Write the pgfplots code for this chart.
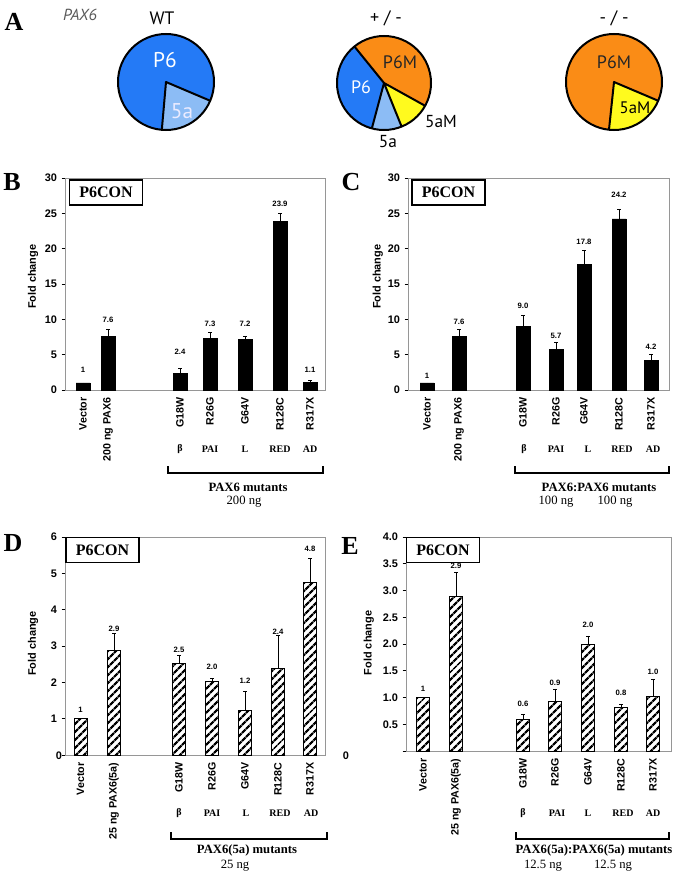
\documentclass[border=0pt]{standalone}
\usepackage{pgfplots}
\usepackage{pgfplotstable}
\pgfplotsset{compat=1.18}
\usetikzlibrary{patterns.meta}
\usepackage{fontspec}
\setmainfont{Liberation Serif}
\setsansfont{Liberation Sans}
\newfontfamily\piefont{PT Sans}

\definecolor{pblue}{RGB}{36,122,246}
\definecolor{plblue}{RGB}{140,188,245}
\definecolor{porange}{RGB}{250,140,22}
\definecolor{pyellow}{RGB}{255,250,30}
\definecolor{framegray}{RGB}{150,150,150}

\newcommand\tlfont{\sffamily\bfseries\fontsize{8.2}{9}\selectfont}
\newcommand\xlfont{\sffamily\bfseries\fontsize{8}{9}\selectfont}
\newcommand\vfont{\sffamily\bfseries\fontsize{5.8}{6}\selectfont}
\newcommand\dfont{\bfseries\fontsize{7.5}{9}\selectfont}
\newcommand\gfont{\fontsize{9.5}{11}\selectfont}

% bar data: x position, value, error, label height, label
\pgfplotstableread{
x v e ly lab
83 1 0 2.8 1
108 7.6 1.0 10.0 7.6
180 2.4 0.7 5.4 2.4
210 7.3 0.9 9.3 7.3
245 7.2 0.35 9.3 7.2
280 23.9 1.1 26.3 23.9
310 1.1 0.2 2.8 1.1
}\Bdata
\pgfplotstableread{
x v e ly lab
427 1 0 2.0 1
459 7.6 1.0 9.7 7.6
523 9.0 1.5 11.9 9.0
556 5.7 1.0 7.7 5.7
584 17.8 1.9 20.9 17.8
619 24.2 1.4 27.6 24.2
651 4.2 0.9 6.1 4.2
}\Cdata
\pgfplotstableread{
x v e ly lab
80.5 1 0 1.25 1
114 2.87 0.47 3.47 2.9
179 2.52 0.21 2.9 2.5
212 2.03 0.08 2.42 2.0
245 1.22 0.52 2.05 1.2
278 2.38 0.92 3.4 2.4
310 4.76 0.64 5.67 4.8
}\Ddata
\pgfplotstableread{
x v e ly lab
423 1.0 0 1.16 1
456 2.88 0.46 3.47 2.9
523 0.59 0.1 0.89 0.6
555 0.93 0.23 1.28 0.9
588 1.99 0.16 2.36 2.0
621 0.81 0.06 1.08 0.8
653 1.02 0.32 1.48 1.0
}\Edata

\pgfplotsset{
  panel/.style={
    scale only axis, anchor=south west, clip=false,
    axis line style={draw=framegray, line width=0.6pt},
    ytick pos=left, ytick align=outside, major tick length=2.5pt,
    major y tick style={black, line width=0.6pt},
    xtick=data, major x tick style={draw=none},
    xticklabel style={rotate=90, anchor=east, inner sep=0pt, font=\xlfont},
    xticklabel shift=5.5pt,
    yticklabel style={font=\tlfont},
    /pgf/number format/assume math mode=true,
    ylabel={Fold change}, ylabel style={font=\tlfont, anchor=center},
  },
  solidbar/.style={ybar, fill=black, draw=black, bar width=14,
    error bars/.cd, y dir=plus, y explicit,
    error bar style={black, line width=0.6pt},
    error mark options={rotate=90, mark size=1.2pt, black, line width=0.6pt}},
  hatchbar/.style={ybar, draw=black, line width=0.7pt, bar width=13,
    pattern={Lines[angle=45, distance=4pt, line width=1.8pt]},
    error bars/.cd, y dir=plus, y explicit,
    error bar style={black, line width=0.6pt, solid},
    error mark options={rotate=90, mark size=1.2pt, black, line width=0.6pt}},
  vlabels/.style={draw=none, mark=none, nodes near coords, point meta=explicit symbolic,
    nodes near coords style={anchor=center, font=\vfont, inner sep=0pt}},
}

\begin{document}
\begin{tikzpicture}[x=0.75pt,y=-0.75pt]
\path[use as bounding box] (0,0) rectangle (676,874);

% ---------- panel A ----------
\node[font=\bfseries\fontsize{19.5}{22}\selectfont] at (14,22) {A};
\node[font=\piefont\itshape\fontsize{12}{14}\selectfont, text=black!65] at (80,15) {PAX6};
\node[font=\piefont\fontsize{13.5}{15}\selectfont] at (162,18) {WT};
\node[font=\piefont\fontsize{13.5}{15}\selectfont] at (386,18) {+ / -};
\node[font=\piefont\fontsize{13.5}{15}\selectfont] at (614,18) {- / -};

\begin{scope}[shift={(166,82)}, yscale=-1]
  \fill[pblue] (0,0) -- (-23:48) arc[start angle=-23, end angle=265, radius=48] -- cycle;
  \fill[plblue] (0,0) -- (265:48) arc[start angle=265, end angle=337, radius=48] -- cycle;
  \draw[line width=1.5pt, line join=round] (265:48) -- (0,0) -- (-23:48);
  \draw[line width=1.5pt] (0,0) circle[radius=48];
\end{scope}
\node[font=\piefont\fontsize{16}{18}\selectfont, text=white] at (165,60) {P6};
\node[font=\piefont\fontsize{16}{18}\selectfont, text=blue!8] at (182,111) {5a};

\begin{scope}[shift={(384,83)}, yscale=-1]
  \fill[porange] (0,0) -- (-29:47) arc[start angle=-29, end angle=129, radius=47] -- cycle;
  \fill[pblue] (0,0) -- (129:47) arc[start angle=129, end angle=255, radius=47] -- cycle;
  \fill[plblue] (0,0) -- (255:47) arc[start angle=255, end angle=292, radius=47] -- cycle;
  \fill[pyellow] (0,0) -- (292:47) arc[start angle=292, end angle=331, radius=47] -- cycle;
  \draw[line width=1.5pt, line join=round] (129:47) -- (0,0) -- (255:47);
  \draw[line width=1.5pt, line join=round] (292:47) -- (0,0) -- (331:47);
  \draw[line width=1.5pt] (0,0) circle[radius=47];
\end{scope}
\node[font=\piefont\fontsize{13.5}{15}\selectfont, text=black!85] at (400,62) {P6M};
\node[font=\piefont\fontsize{13.5}{15}\selectfont, text=white] at (361,87) {P6};
\node[font=\piefont\fontsize{13}{15}\selectfont] at (441,122) {5aM};
\node[font=\piefont\fontsize{13}{15}\selectfont] at (388,142) {5a};

\begin{scope}[shift={(614,82)}, yscale=-1]
  \fill[porange] (0,0) -- (-23:48) arc[start angle=-23, end angle=264, radius=48] -- cycle;
  \fill[pyellow] (0,0) -- (264:48) arc[start angle=264, end angle=337, radius=48] -- cycle;
  \draw[line width=1.5pt, line join=round] (264:48) -- (0,0) -- (-23:48);
  \draw[line width=1.5pt] (0,0) circle[radius=48];
\end{scope}
\node[font=\piefont\fontsize{13.5}{15}\selectfont, text=black!85] at (614,62) {P6M};
\node[font=\piefont\fontsize{12.5}{15}\selectfont] at (635,108) {5aM};

% ---------- panel B ----------
\coordinate (Bo) at (65,390);
\begin{axis}[panel, at={(Bo)}, width=195pt, height=159pt,
  xmin=65, xmax=325, ymin=0, ymax=30, ytick={0,5,...,30},
  xticklabels={Vector,200 ng PAX6,G18W,R26G,G64V,R128C,R317X},
  ylabel style={at={(axis description cs:-0.123,0.534)}}]
\addplot[solidbar] table[x=x, y=v, y error=e] {\Bdata};
\addplot[vlabels] table[x=x, y=ly, meta=lab] {\Bdata};
\end{axis}

% ---------- panel C ----------
\coordinate (Co) at (408,390);
\begin{axis}[panel, at={(Co)}, width=195.75pt, height=159pt,
  xmin=408, xmax=669, ymin=0, ymax=30, ytick={0,5,...,30},
  xticklabels={Vector,200 ng PAX6,G18W,R26G,G64V,R128C,R317X},
  ylabel style={at={(axis description cs:-0.116,0.534)}}]
\addplot[solidbar] table[x=x, y=v, y error=e] {\Cdata};
\addplot[vlabels] table[x=x, y=ly, meta=lab] {\Cdata};
\end{axis}

% ---------- panel D ----------
\coordinate (Do) at (65,755);
\begin{axis}[panel, at={(Do)}, width=195pt, height=163.5pt,
  xmin=65, xmax=325, ymin=0, ymax=6, ytick={0,...,6},
  yticklabels={,1,2,3,4,5,6},
  xticklabels={Vector,25 ng PAX6(5a),G18W,R26G,G64V,R128C,R317X},
  ylabel style={at={(axis description cs:-0.123,0.511)}}]
\addplot[hatchbar] table[x=x, y=v, y error=e] {\Ddata};
\addplot[vlabels] table[x=x, y=ly, meta=lab] {\Ddata};
\end{axis}

% ---------- panel E ----------
\coordinate (Eo) at (406,751);
\begin{axis}[panel, at={(Eo)}, width=198.75pt, height=160.5pt,
  xmin=406, xmax=671, ymin=0, ymax=4, ytick={0,0.5,...,4},
  yticklabels={,0.5,1.0,1.5,2.0,2.5,3.0,3.5,4.0},
  xticklabels={Vector,25 ng PAX6(5a),G18W,R26G,G64V,R128C,R317X},
  ylabel style={at={(axis description cs:-0.14,0.505)}}]
\addplot[hatchbar] table[x=x, y=v, y error=e] {\Edata};
\addplot[vlabels] table[x=x, y=ly, meta=lab] {\Edata};
\end{axis}

% zero labels of D and E, set apart as in the figure
\node[font=\tlfont] at (59,756) {0};
\node[font=\tlfont] at (346,756) {0};

% panel letters and P6CON boxes
\foreach \l/\px/\py in {B/12/182, C/351/182, D/13/543, E/350/546}
  \node[font=\bfseries\fontsize{19.5}{22}\selectfont] at (\px,\py) {\l};
\foreach \px/\py in {106/192.5, 448.5/192.5, 102.5/550, 443/550}
  \node[draw, fill=white, line width=0.9pt, inner sep=0pt, minimum width=54.75pt,
        minimum height=18.75pt, font=\bfseries\fontsize{12}{14}\selectfont] at (\px,\py) {P6CON};

% domain rows
\foreach \px/\t in {180/β, 210/PAI, 245/L, 280/RED, 310/AD}
  \node[font=\dfont] at (\px,449) {\t};
\foreach \px/\t in {524/β, 556/PAI, 588/L, 622/RED, 653/AD}
  \node[font=\dfont] at (\px,449) {\t};
\foreach \px/\t in {179/β, 212/PAI, 246/L, 280/RED, 311/AD}
  \node[font=\dfont] at (\px,813) {\t};
\foreach \px/\t in {523/β, 557/PAI, 588/L, 623/RED, 653/AD}
  \node[font=\dfont] at (\px,813) {\t};

% brackets
\draw[line width=1.1pt] (168,466) -- (168,473) -- (323,473) -- (323,466);
\draw[line width=1.1pt] (515,466) -- (515,473) -- (669,473) -- (669,466);
\draw[line width=1.1pt] (171,832) -- (171,839) -- (327,839) -- (327,832);
\draw[line width=1.1pt] (516,832) -- (516,839) -- (669,839) -- (669,832);

% group captions
\node[font=\bfseries\gfont] at (248,487) {PAX6 mutants};
\node[font=\gfont] at (244,502) {200 ng};
\node[font=\bfseries\gfont] at (599,487) {PAX6:PAX6 mutants};
\node[font=\gfont] at (556,502) {100 ng};
\node[font=\gfont] at (615,502) {100 ng};
\node[font=\bfseries\gfont] at (247,850) {PAX6(5a) mutants};
\node[font=\gfont] at (235,866) {25 ng};
\node[font=\bfseries\gfont] at (594,850) {PAX6(5a):PAX6(5a) mutants};
\node[font=\gfont] at (543,866) {12.5 ng};
\node[font=\gfont] at (613,866) {12.5 ng};
\end{tikzpicture}
\end{document}
